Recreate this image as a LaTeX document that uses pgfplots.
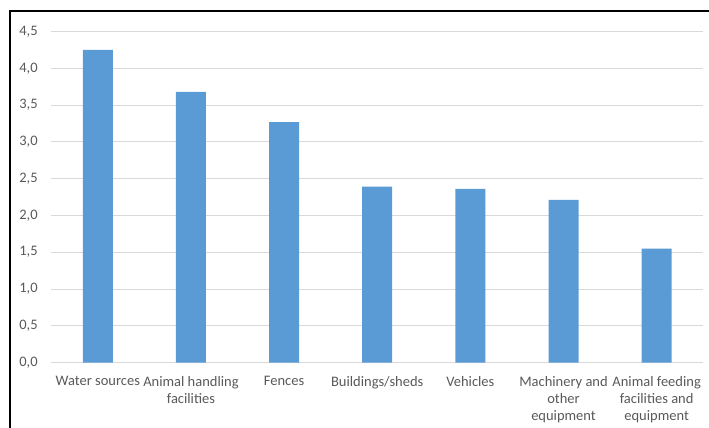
\documentclass[border=0pt]{standalone}
\usepackage{pgfplots}
\pgfplotsset{compat=1.18}
\usepackage{fontspec}
\setmainfont{Carlito}
\definecolor{barblue}{HTML}{5B9BD5}
\definecolor{gridgray}{HTML}{D9D9D9}
\definecolor{labelgray}{HTML}{595959}
\begin{document}
\begin{tikzpicture}[x=1pt,y=1pt]
\useasboundingbox (0,0) rectangle (709,428);
% outer frame (left and top edges)
\draw[line width=2pt, line cap=rect] (10,0) -- (10,417) -- (709,417);
\begin{axis}[
  at={(55,89)}, anchor=south west,
  scale only axis, width=652pt, height=331pt,
  ymin=0, ymax=4.5, xmin=-0.5, xmax=6.5,
  ytick={0,0.5,...,4.5},
  xtick={0,...,6},
  xticklabels={{Water sources},{Animal handling\\facilities},{Fences},{Buildings/sheds},{Vehicles},{Machinery and\\other\\equipment},{Animal feeding\\facilities and\\equipment}},
  ymajorgrids,
  grid style={gridgray, line width=0.9pt},
  axis line style={draw=none},
  tick style={draw=none},
  /pgf/number format/assume math mode=true,
  yticklabel style={font=\fontsize{14.5}{17}\selectfont, text=labelgray, xshift=-10pt,
    /pgf/number format/.cd, fixed, fixed zerofill, precision=1, use comma},
  xticklabel style={font=\fontsize{14.5}{17}\selectfont, text=labelgray, align=center, anchor=north, yshift=-10pt},
  clip=false,
]
\addplot[ybar, bar width=30pt, fill=barblue, draw=none] coordinates {
  (0,4.25) (1,3.68) (2,3.27) (3,2.39) (4,2.36) (5,2.21) (6,1.55)
};
\end{axis}
\end{tikzpicture}
\end{document}
